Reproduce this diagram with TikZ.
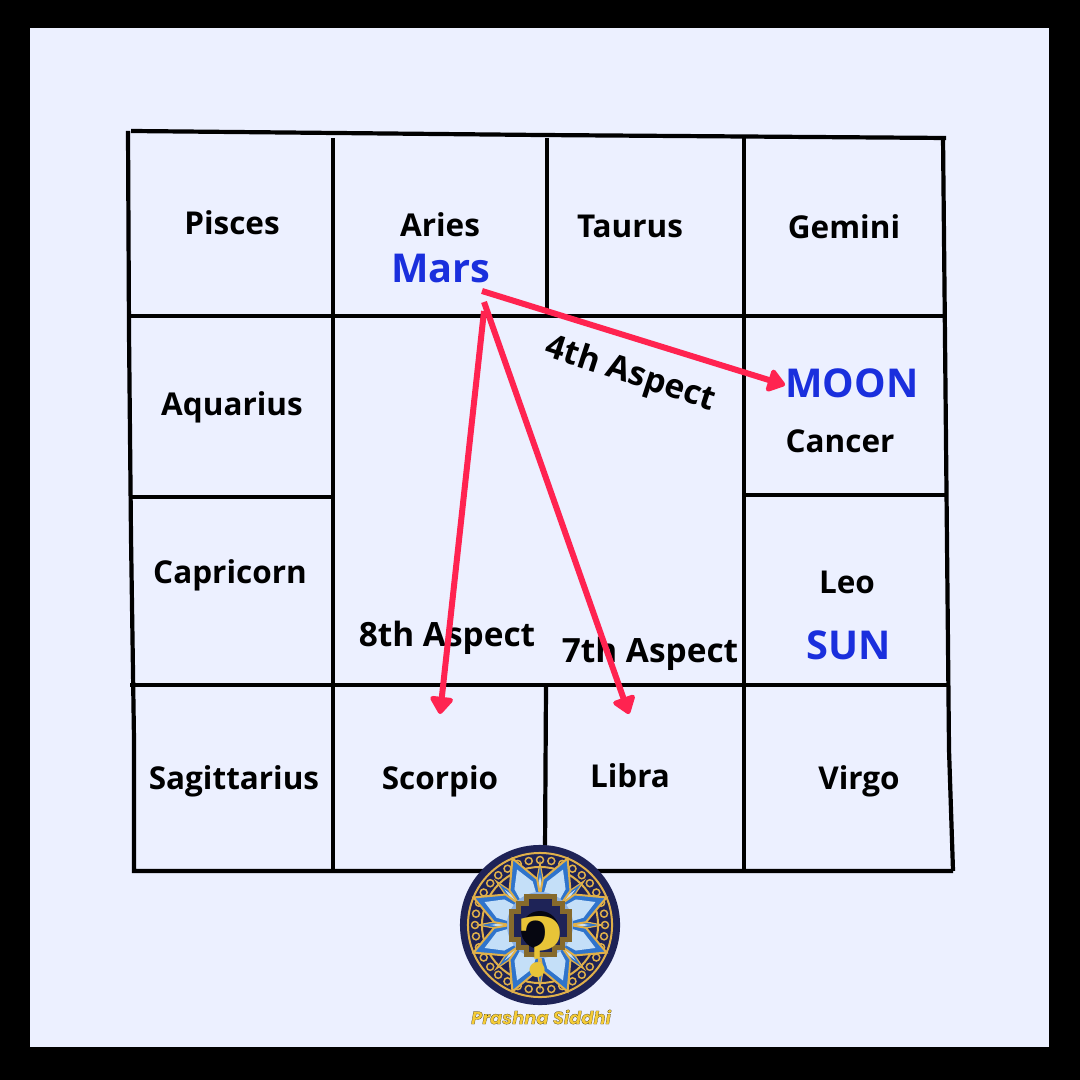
\documentclass[tikz,border=0pt]{standalone}
\usepackage{fontspec}
\setmainfont{Open Sans}
\newfontfamily\logofont[BoldItalicFeatures={FakeBold=0.8}]{Poppins}
\usetikzlibrary{arrows.meta}

\definecolor{pagebg}{HTML}{ECF0FF}
\definecolor{planet}{HTML}{1A2FDD}
\definecolor{aspect}{HTML}{FF2350}
\definecolor{navy}{HTML}{1E2357}
\definecolor{gold}{HTML}{E0B04A}
\definecolor{petal}{HTML}{2F74CC}
\definecolor{petallight}{HTML}{C4DFF8}

\tikzset{
    gridline/.style={line width=0.042cm,black},
    sign/.style={inner sep=0pt,font=\bfseries\fontsize{8.95}{11}\selectfont},
    body/.style={inner sep=0pt,text=planet,font=\bfseries\fontsize{11.3}{14}\selectfont},
    aspectlabel/.style={inner sep=0pt,font=\bfseries\fontsize{9.5}{11}\selectfont},
    aspectline/.style={line width=0.06cm,aspect,-{Triangle[length=0.19cm,width=0.26cm,round]}},
    goldline/.style={gold,line width=0.012cm},
}

\begin{document}
\begin{tikzpicture}[x=0.01cm,y=-0.01cm]
    \useasboundingbox (0,0) rectangle (1080,1080);
    \fill[black] (0,0) rectangle (1080,1080);
    \fill[pagebg] (30,28) rectangle (1049,1047);

    % grid
    \draw[gridline] (128,131) -- (129,332) -- (131,537) -- (134,740) -- (134,871) -- (953,871);
    \draw[gridline] (131,131) -- (540,135) -- (946,138);
    \draw[gridline] (943,138) -- (945,340) -- (947,545) -- (949,750) -- (953,871);
    \draw[gridline] (129,316) -- (945,316);
    \draw[gridline] (130,685) -- (947,685);
    \draw[gridline] (131,497) -- (333,497);
    \draw[gridline] (744,495) -- (946,495);
    \draw[gridline] (333,138) -- (333,871);
    \draw[gridline] (547,138) -- (547,316);
    \draw[gridline] (744,138) -- (744,871);
    \draw[gridline] (546,685) -- (545,850);

    % signs
    \node[sign] (pisces) at (232,223) {Pisces};
    \node[sign] (aries) at (440,225) {Aries};
    \node[sign] (taurus) at (630,226) {Taurus};
    \node[sign] (gemini) at (844,227) {Gemini};
    \node[sign] (aquarius) at (232,407) {Aquarius};
    \node[sign] (cancer) at (840,441) {Cancer};
    \node[sign] (capricorn) at (230,575) {Capricorn};
    \node[sign] (leo) at (847,582) {Leo};
    \node[sign] (sagittarius) at (234,781) {Sagittarius};
    \node[sign] (scorpio) at (440,781) {Scorpio};
    \node[sign] (libra) at (630,776) {Libra};
    \node[sign] (virgo) at (859,781) {Virgo};

    \node[body] (mars) at (441,269) {Mars};
    \node[body] (moon) at (852,383) {MOON};
    \node[body] (sun) at (849,645) {SUN};

    \node[aspectlabel,rotate=-18] (fourth) at (630,375) {4th Aspect};
    \node[aspectlabel] (eighth) at (447,638) {8th Aspect};
    \node[aspectlabel] (seventh) at (650,654) {7th Aspect};

    % arrows
    \coordinate (marsa) at (482,291);
    \coordinate (marsb) at (484,311);
    \coordinate (marsc) at (484,302);
    \coordinate (moonend) at (785,385);
    \coordinate (scorpioend) at (440,714);
    \coordinate (libraend) at (629,714);
    \draw[aspectline] (marsa) -- (moonend);
    \draw[aspectline] (marsb) -- (scorpioend);
    \draw[aspectline] (marsc) -- (libraend);

    % logo
    \begin{scope}[shift={(540,925)}]
        \fill[navy] (0,0) circle (0.8cm);
        \draw[goldline,line width=0.02cm] (0,0) circle (0.72cm);
        \draw[goldline,line width=0.02cm] (0,0) circle (0.58cm);
        \foreach \a in {0,10,...,350} {
            \draw[goldline,line width=0.015cm] (\a:65) circle (0.035cm);
        }
        \foreach \a in {0,45,...,315} {
            \draw[goldline,fill=petal] (\a-12:30) -- (\a:62) -- (\a+12:30) -- cycle;
            \fill[petallight] (\a-6:30) -- (\a:50) -- (\a+6:30) -- cycle;
        }
        \foreach \a in {22.5,67.5,...,337.5} {
            \draw[goldline,line width=0.02cm,fill=petal] (\a-24:26) -- (\a-19:46) -- (\a:72) -- (\a+19:46) -- (\a+24:26) -- cycle;
            \fill[petallight] (\a-17:28) -- (\a-13:44) -- (\a:60) -- (\a+13:44) -- (\a+17:28) -- cycle;
        }
        \fill[petal!55!white] (0,0) circle (0.33cm);
        \draw[gold!60!black,line width=0.05cm,fill=navy]
            (-14,-29) -- (14,-29) -- (14,-22) -- (22,-22) -- (22,-14) -- (29,-14) -- (29,14)
            -- (22,14) -- (22,22) -- (14,22) -- (14,29) -- (-14,29) -- (-14,22) -- (-22,22)
            -- (-22,14) -- (-29,14) -- (-29,-14) -- (-22,-14) -- (-22,-22) -- (-14,-22) -- cycle;
        \fill[black!80!navy] (0,5) circle (0.19cm);
        \node[inner sep=0pt,text=gold!75!yellow,font={\fontspec{DejaVu Serif}\bfseries\fontsize{23}{23}\selectfont}] (question) at (0,22) {?};
    \end{scope}
    \node[inner sep=0pt,font={\logofont\bfseries\itshape\fontsize{5.1}{6}\selectfont}] (brand) at (541,1017) {\special{pdf:bcolor [0.96 0.8 0.22] [0.1 0.08 0]}Prashna Siddhi\special{pdf:ecolor}};
\end{tikzpicture}
\end{document}
